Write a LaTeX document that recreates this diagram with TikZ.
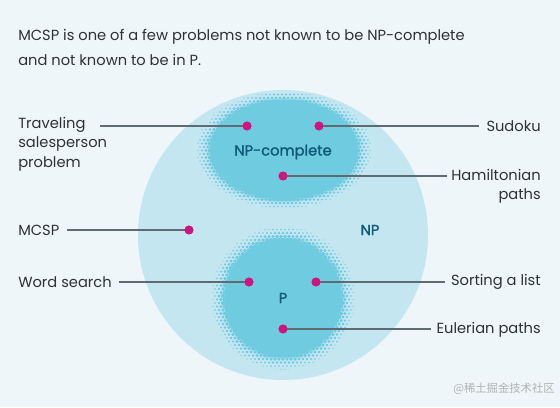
\documentclass[tikz,border=0pt]{standalone}
\usepackage{fontspec}
\setmainfont{Poppins}
\newfontfamily\setfont{Poppins}[FakeBold=1.3]
\newfontfamily\cjkfont{Noto Sans CJK SC}
\usepackage{xcolor}
\usetikzlibrary{calc}

\definecolor{bgcol}{HTML}{EEF6F9}
\definecolor{npcol}{HTML}{C4E6F1}
\definecolor{coreol}{HTML}{6ECBE0}
\definecolor{labcol}{HTML}{0E5A78}
\definecolor{dotcol}{HTML}{D2127E}
\definecolor{linecol}{HTML}{5E6C72}
\definecolor{txtcol}{HTML}{2C3236}

% halftone ring: center x, center y, rx, ry, inner fraction
\newcommand\halftone[5]{%
  \pgfmathsetmacro\nx{int(2*#3/4)}
  \pgfmathsetmacro\ny{int(2*#4/3.5)}
  \foreach \i in {0,...,\nx}{
    \foreach \j in {0,...,\ny}{
      \pgfmathsetmacro\hx{-#3+4*\i+2*mod(\j,2)}
      \pgfmathsetmacro\hy{-#4+3.5*\j}
      \pgfmathsetmacro\hd{sqrt((\hx/#3)^2+(\hy/#4)^2)}
      \pgfmathsetmacro\hr{(\hd<1 && \hd>#5-0.07) ? min(2.2*(1-\hd)/(1-#5)+0.45,2.8) : 0}
      \ifdim\hr pt>0pt \fill[coreol] (#1+\hx,#2+\hy) circle[radius=\hr]; \fi
    }}}

\begin{document}
\begin{tikzpicture}[x=0.75pt,y=-0.75pt,
    dot/.style={circle,fill=dotcol,inner sep=0pt,minimum size=6.6pt},
    lab/.style={text=txtcol,inner sep=0pt,font=\fontsize{11}{14.6}\selectfont},
    setlab/.style={text=labcol,inner sep=0pt,font=\fontsize{11}{13}\setfont},
    leader/.style={linecol,line width=0.9pt}]

  % Background
  \fill[bgcol] (0,0) rectangle (560,407);
  \useasboundingbox (0,0) rectangle (560,407);

  % Title
  \node[lab,anchor=north west,align=left,font=\fontsize{11}{18.5}\selectfont] (title) at (18,29)
    {MCSP is one of a few problems not known to be NP-complete\\and not known to be in P.};

  % NP
  \fill[npcol] (283,235) circle[radius=145];

  % NP-complete
  \halftone{284}{150}{88}{59}{0.8}
  \fill[coreol] (284,150) ellipse[x radius=70.4,y radius=47.2];

  % P
  \halftone{283}{298}{72}{72}{0.77}
  \fill[coreol] (283,298) circle[radius=55.4];

  % Set labels
  \node[setlab] (npc) at (283,152) {NP-complete};
  \node[setlab] (np) at (370,230) {NP};
  \node[setlab] (p) at (283,298) {P};

  % Problems
  \node[dot] (dtrav) at (247,126) {};
  \node[dot] (dsudo) at (319,126) {};
  \node[dot] (dham) at (283,176) {};
  \node[dot] (dmcsp) at (189,230) {};
  \node[dot] (dword) at (249,282) {};
  \node[dot] (dsort) at (316,282) {};
  \node[dot] (deul) at (283,329) {};

  \node[lab,anchor=north west,align=left] (trav) at (18,117) {Traveling\\salesperson\\problem};
  \node[lab,anchor=east] (sudo) at (541,126) {Sudoku};
  \node[lab,anchor=north east,align=right] (ham) at (541,169) {Hamiltonian\\paths};
  \node[lab,anchor=west] (mcsp) at (18,230) {MCSP};
  \node[lab,anchor=west] (word) at (18,282) {Word search};
  \node[lab,anchor=east] (sort) at (541,282) {Sorting a list};
  \node[lab,anchor=east] (eul) at (541,330) {Eulerian paths};
  \coordinate (travend) at (100,126);

  % Leaders
  \draw[leader] (dtrav.center) -- (travend);
  \draw[leader,shorten >=5.5pt] (dsudo.center) -- (sudo.west |- dsudo);
  \draw[leader,shorten >=3pt] (dham.center) -- (ham.west |- dham);
  \draw[leader,shorten >=5.5pt] (dmcsp.center) -- (mcsp.east |- dmcsp);
  \draw[leader,shorten >=5.5pt] (dword.center) -- (word.east |- dword);
  \draw[leader,shorten >=4pt] (dsort.center) -- (sort.west |- dsort);
  \draw[leader,shorten >=4pt] (deul.center) -- (eul.west |- deul);

  % redraw dots on top of leaders
  \foreach \d in {dtrav,dsudo,dham,dmcsp,dword,dsort,deul}
    \fill[dotcol] (\d) circle[radius=4.4];

  % Watermark
  \node[text=black!30,inner sep=0pt,anchor=east,font=\cjkfont\fontsize{8.5}{10}\selectfont] (wm) at (555,389) {@稀土掘金技术社区};

\end{tikzpicture}
\end{document}
